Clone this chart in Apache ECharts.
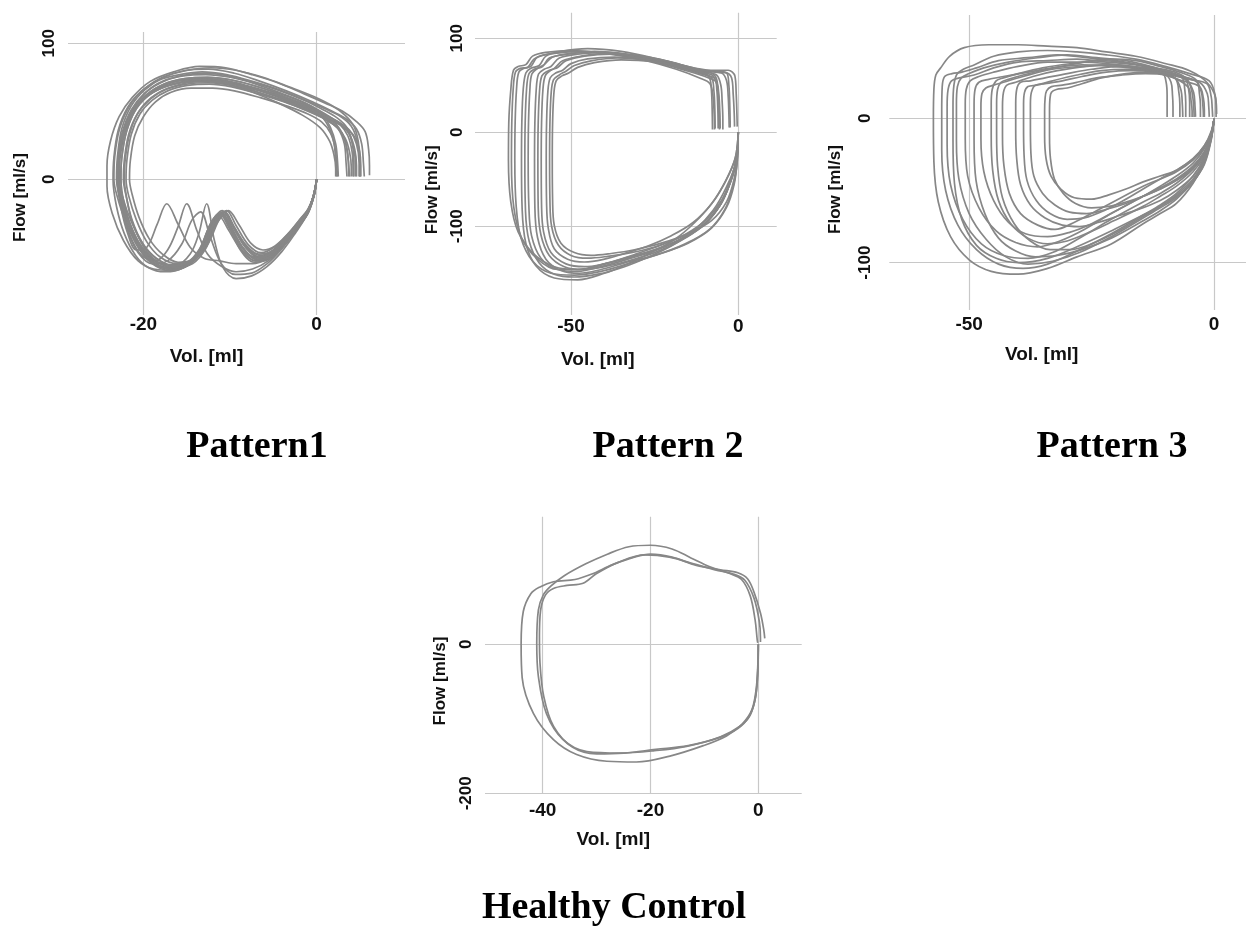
<!DOCTYPE html>
<html>
<head>
<meta charset="utf-8">
<script src="https://cdn.jsdelivr.net/npm/echarts@6/dist/echarts.min.js"></script>
<style>
  html, body { margin: 0; padding: 0; background: #ffffff; }
  #chart { width: 1246px; height: 927px; }
</style>
</head>
<body>
<div id="chart"></div>
<script>
// ---------- Data: tidal flow-volume loops, each loop is a list of [volume ml, flow ml/s] ----------
const panelTitles = ['Pattern1', 'Pattern 2', 'Pattern 3', 'Healthy Control'];
const volumeTicks = [[-20, 0], [-50, 0], [-50, 0], [-40, -20, 0]];
const flowTicks = [[0, 100], [-100, 0, 100], [-100, 0], [-200, 0]];
const volumeName = 'Vol. [ml]';
const flowName = 'Flow [ml/s]';

const pattern1Loops = [
  [[0,0],[-0.3,-12],[-1,-24],[-2.2,-33],[-3.6,-43],[-5,-52],[-6.5,-56],[-8,-50],[-9.5,-35],[-10.6,-24],[-11.6,-31],[-12.9,-50],[-14.4,-61],[-16.5,-64],[-18.5,-58],[-20,-48],[-21.4,-31],[-22.4,-13],[-22.8,0],[-22.7,15],[-22.1,35],[-21,51],[-19.5,62],[-17.8,69],[-15.5,73],[-13,74],[-10.5,72],[-7.5,67],[-4.5,61],[-1.5,53],[0.5,46],[2,40],[3,33],[3.5,22],[3.7,10],[3.8,2]],
  [[0,0],[-0.4,-14],[-1.2,-27],[-2.5,-38],[-4,-50],[-5.6,-59],[-7.2,-61],[-8.8,-52],[-10,-36],[-11,-26],[-12,-33],[-13.4,-53],[-15,-64],[-17,-67],[-19,-62],[-20.6,-50],[-22,-32],[-23,-13],[-23.4,0],[-23.3,17],[-22.7,38],[-21.5,55],[-19.8,67],[-17.8,75],[-15.2,80],[-12.5,81],[-9.5,78],[-6.5,72],[-3.5,65],[-0.5,57],[1.8,50],[3.5,44],[4.6,37],[5.2,26],[5.4,12],[5.5,2]],
  [[0,0],[-0.3,-10],[-0.9,-21],[-2,-30],[-3.3,-40],[-4.8,-49],[-6.2,-52],[-7.6,-47],[-9,-33],[-10.2,-23],[-11.2,-29],[-12.5,-47],[-14,-58],[-16,-61],[-17.8,-55],[-19.3,-44],[-20.5,-28],[-21.3,-11],[-21.6,0],[-21.5,14],[-21,32],[-20,46],[-18.6,57],[-16.8,64],[-14.5,67],[-12,67],[-9.5,65],[-6.5,60],[-3.5,54],[-1,48],[0.6,42],[1.6,34],[2.1,24],[2.3,12],[2.4,2]],
  [[0,0],[-0.5,-15],[-1.4,-28],[-2.8,-40],[-4.3,-51],[-5.8,-57],[-7.3,-57],[-8.8,-48],[-10,-33],[-10.9,-25],[-11.9,-32],[-13.2,-52],[-14.8,-63],[-16.8,-67],[-18.8,-66],[-20.6,-60],[-22.3,-45],[-23.6,-25],[-24.2,-5],[-24.2,10],[-23.8,28],[-22.8,46],[-21.3,60],[-19.2,72],[-16.5,79],[-13.5,83],[-10.5,82],[-7.5,77],[-4.5,71],[-1.5,63],[1,56],[3,50],[4.5,43],[5.6,35],[6,22],[6.1,10],[6.1,3]],
  [[0,0],[-0.4,-13],[-1.2,-27],[-2.5,-40],[-4,-53],[-5.7,-64],[-7.5,-71],[-9.3,-73],[-10.8,-65],[-11.8,-45],[-12.7,-18],[-13.6,-40],[-14.6,-55],[-16.2,-63],[-18,-62],[-19.8,-54],[-21.2,-38],[-22.2,-18],[-22.6,0],[-22.5,16],[-21.9,36],[-20.8,52],[-19.2,63],[-17.2,70],[-14.8,73],[-12.2,73],[-9.5,70],[-6.5,65],[-3.5,58],[-0.8,51],[1.2,44],[2.5,37],[3.2,26],[3.4,12],[3.5,2]],
  [[0,0],[-0.4,-13],[-1.2,-26],[-2.5,-38],[-4,-50],[-5.6,-60],[-7.4,-66],[-9.3,-68],[-11,-64],[-12.6,-55],[-13.8,-38],[-15,-18],[-16,-35],[-17.2,-52],[-18.6,-60],[-20.2,-56],[-21.5,-42],[-22.4,-22],[-22.9,0],[-22.8,15],[-22.3,34],[-21.2,50],[-19.6,62],[-17.6,70],[-15.2,74],[-12.6,75],[-9.8,73],[-6.8,68],[-3.8,62],[-1,55],[1,48],[2.6,41],[3.6,32],[4.1,20],[4.2,8],[4.2,2]],
  [[0,0],[-0.4,-13],[-1.2,-26],[-2.5,-38],[-4,-50],[-5.6,-58],[-7.4,-62],[-9.3,-62],[-11.2,-60],[-13,-58],[-14.6,-50],[-16,-33],[-17.3,-18],[-18.4,-33],[-19.6,-50],[-20.8,-52],[-21.8,-40],[-22.6,-20],[-23,0],[-22.9,15],[-22.4,34],[-21.3,50],[-19.8,61],[-17.8,69],[-15.4,73],[-12.8,74],[-10,72],[-7,67],[-4,61],[-1.2,54],[0.8,47],[2.3,40],[3.2,30],[3.6,18],[3.7,7],[3.7,2]],
  [[0,0],[-0.3,-11],[-1,-23],[-2.1,-32],[-3.5,-42],[-5.1,-53],[-6.7,-57],[-8.3,-49],[-9.8,-33],[-10.9,-23],[-11.9,-30],[-13.1,-49],[-14.7,-60],[-16.7,-63],[-18.6,-58],[-20.1,-47],[-21.3,-30],[-22,-12],[-22.3,0],[-22.2,14],[-21.7,33],[-20.7,48],[-19.2,59],[-17.4,66],[-15,70],[-12.5,71],[-9.8,69],[-6.8,64],[-3.8,58],[-1,51],[1.2,45],[2.8,40],[3.8,33],[4.4,22],[4.6,10],[4.6,2]],
  [[0,0],[-0.3,-12],[-1,-25],[-2.3,-35],[-3.8,-45],[-5.3,-55],[-6.9,-59],[-8.5,-51],[-9.9,-36],[-11,-25],[-12,-32],[-13.3,-51],[-15,-62],[-17,-65],[-19,-60],[-20.5,-48],[-21.8,-30],[-22.6,-11],[-23,0],[-22.9,16],[-22.3,36],[-21.2,52],[-19.7,64],[-17.8,72],[-15.4,76],[-12.8,77],[-10,75],[-7,70],[-4,63],[-1.3,56],[0.6,48],[1.6,38],[2.2,26],[2.4,14],[2.5,2]],
  [[0,0],[-0.3,-12],[-1.1,-25],[-2.3,-34],[-3.7,-44],[-5.2,-53],[-6.7,-55],[-8.2,-48],[-9.7,-34],[-10.8,-24],[-11.8,-31],[-13,-49],[-14.6,-61],[-16.6,-65],[-18.6,-60],[-20.2,-50],[-21.6,-32],[-22.5,-14],[-22.9,0],[-22.8,15],[-22.3,34],[-21.2,50],[-19.6,61],[-17.6,68],[-15.3,72],[-12.7,73],[-10,71],[-7,66],[-4,60],[-1.2,53],[1,47],[2.6,42],[3.8,36],[4.6,26],[4.9,12],[4.9,2]],
  [[0,0],[-0.3,-11],[-1,-22],[-2.1,-31],[-3.4,-41],[-4.9,-50],[-6.4,-54],[-7.9,-48],[-9.3,-34],[-10.4,-23],[-11.4,-30],[-12.7,-48],[-14.2,-59],[-16.2,-62],[-18.1,-57],[-19.6,-46],[-20.8,-30],[-21.7,-12],[-22,0],[-21.9,14],[-21.4,33],[-20.4,48],[-19,58],[-17.2,65],[-14.9,69],[-12.4,70],[-9.8,68],[-6.8,63],[-3.8,57],[-1,50],[1,44],[2.4,38],[3.3,30],[3.8,20],[4,9],[4,2]],
  [[0,0],[-0.4,-13],[-1.1,-26],[-2.3,-36],[-3.8,-47],[-5.4,-57],[-7,-60],[-8.6,-52],[-10.1,-36],[-11.2,-25],[-12.2,-32],[-13.5,-52],[-15.1,-63],[-17.1,-66],[-19.1,-61],[-20.7,-49],[-22,-30],[-22.8,-12],[-23.1,0],[-23,16],[-22.5,37],[-21.4,54],[-19.8,66],[-17.6,75],[-15,80],[-12.2,82],[-9.2,80],[-6.2,75],[-3.2,68],[-0.4,61],[1.8,54],[3.3,47],[4.3,39],[4.8,28],[5,14],[5,2]],
  [[0,0],[-0.3,-12],[-1,-24],[-2.2,-34],[-3.6,-44],[-5.1,-54],[-6.6,-57],[-8.1,-50],[-9.6,-35],[-10.7,-24],[-11.7,-31],[-13,-50],[-14.6,-62],[-16.6,-66],[-18.6,-62],[-20.2,-52],[-21.5,-36],[-22.3,-18],[-22.6,0],[-22.5,15],[-22,34],[-21,50],[-19.5,61],[-17.5,68],[-15.1,72],[-12.5,73],[-9.8,71],[-6.8,66],[-3.8,60],[-1,53],[0.6,46],[1.5,37],[2,27],[2.2,14],[2.3,2]],
  [[0,0],[-0.4,-13],[-1.2,-26],[-2.5,-39],[-4,-51],[-5.7,-62],[-7.5,-69],[-9.4,-70],[-11,-62],[-12.3,-42],[-13.4,-24],[-14.4,-30],[-15.6,-48],[-17.2,-60],[-19,-62],[-20.6,-54],[-21.8,-38],[-22.6,-18],[-23,0],[-22.9,15],[-22.4,34],[-21.3,50],[-19.7,62],[-17.6,70],[-15.2,74],[-12.6,75],[-9.8,73],[-6.8,68],[-3.8,61],[-1,54],[1.1,47],[2.7,41],[3.7,34],[4.3,22],[4.5,10],[4.5,2]],
  [[0,0],[-0.3,-11],[-1,-23],[-2.2,-33],[-3.7,-44],[-5.3,-55],[-6.9,-59],[-8.4,-51],[-9.8,-36],[-10.9,-26],[-11.9,-33],[-13.2,-52],[-14.8,-63],[-16.8,-66],[-18.8,-61],[-20.4,-50],[-21.7,-33],[-22.6,-14],[-23,0],[-22.9,15],[-22.4,35],[-21.4,51],[-19.9,63],[-18,71],[-15.7,76],[-13,78],[-10.2,76],[-7.2,71],[-4.2,65],[-1.4,58],[0.8,51],[2.4,45],[3.5,38],[4.1,27],[4.3,13],[4.3,2]],
  [[0,0],[-0.3,-12],[-1,-25],[-2.2,-35],[-3.6,-45],[-5.1,-54],[-6.6,-58],[-8.1,-51],[-9.5,-37],[-10.5,-26],[-11.5,-32],[-12.8,-51],[-14.3,-62],[-16.3,-65],[-18.3,-61],[-19.9,-52],[-21.3,-38],[-22.3,-20],[-22.8,-2],[-22.8,14],[-22.3,33],[-21.3,49],[-19.8,60],[-17.9,67],[-15.6,71],[-13.1,72],[-10.4,70],[-7.4,64],[-4.4,56],[-1.6,47],[0.4,38],[1.5,28],[2,18],[2.2,8],[2.2,2]],
  [[0,0],[-0.4,-13],[-1.1,-25],[-2.4,-36],[-3.9,-47],[-5.5,-57],[-7.1,-60],[-8.7,-52],[-10.2,-37],[-11.3,-27],[-12.3,-34],[-13.7,-54],[-15.4,-65],[-17.5,-68],[-19.4,-65],[-20.9,-56],[-22.2,-40],[-23.1,-20],[-23.5,0],[-23.4,16],[-22.9,36],[-21.8,53],[-20.2,65],[-18.2,73],[-15.8,77],[-13.2,79],[-10.4,77],[-7.4,72],[-4.4,66],[-1.6,59],[0.9,52],[2.8,46],[4,39],[4.7,28],[5,14],[5,2]],
  [[0,0],[-0.3,-12],[-1.1,-24],[-2.3,-34],[-3.8,-45],[-5.4,-55],[-7,-58],[-8.6,-50],[-10.1,-35],[-11.2,-25],[-12.2,-32],[-13.5,-51],[-15.1,-62],[-17.1,-64],[-18.9,-58],[-20.3,-46],[-21.4,-29],[-22,-11],[-22.2,0],[-22.1,14],[-21.6,33],[-20.6,49],[-19.1,60],[-17.2,67],[-14.9,71],[-12.4,72],[-9.7,70],[-6.7,64],[-3.7,57],[-0.9,50],[1.3,44],[3,39],[4.2,33],[4.9,22],[5.1,10],[5.1,2]]
];

const pattern2Loops = [
  [[0,0],[-0.5,-28],[-2.3,-52],[-5.3,-77],[-10,-98],[-16,-112],[-24,-124],[-32,-132],[-40,-140],[-48,-146],[-55,-143],[-61,-130],[-65.8,-106],[-68,-74],[-68.7,-30],[-68.6,10],[-68,45],[-67.2,66],[-65.8,70],[-63.5,72],[-61.5,81],[-57.5,85],[-50,87],[-40,84],[-28.5,77],[-18.5,67],[-11,57],[-8.5,52],[-7.6,40],[-7.2,20],[-7.1,3]],
  [[0,0],[-0.3,-30],[-1.2,-55],[-3.5,-80],[-8,-102],[-15,-118],[-24,-130],[-33,-140],[-41,-148],[-49,-152],[-56,-150],[-61.5,-137],[-65,-112],[-66.4,-78],[-66.8,-30],[-66.7,10],[-66.3,45],[-65.6,64],[-64,68],[-62,70],[-60,80],[-55,84],[-47,86],[-37,83],[-26,76],[-16,66],[-9,58],[-6.5,53],[-5.8,40],[-5.5,20],[-5.4,4]],
  [[0,0],[-0.8,-26],[-3.5,-50],[-7.5,-74],[-13,-96],[-19,-114],[-26,-128],[-33,-140],[-40,-150],[-48,-157],[-55,-155],[-60.5,-142],[-63.5,-118],[-64.6,-82],[-64.8,-30],[-64.7,10],[-64.3,45],[-63.5,63],[-62,68],[-59.5,71],[-57.5,81],[-53,86],[-45,89],[-35,86],[-24,78],[-14,69],[-6,64],[-3.5,63],[-2.8,50],[-2.5,25],[-2.4,5]],
  [[0,0],[-0.5,-29],[-2.5,-53],[-5.6,-78],[-10.5,-99],[-17,-114],[-25,-126],[-33,-135],[-41,-143],[-48,-148],[-54,-146],[-59,-134],[-61.8,-110],[-62.6,-78],[-62.8,-30],[-62.7,10],[-62.3,45],[-61.7,62],[-60,68],[-58,72],[-55.5,80],[-50,84],[-42,85],[-32,81],[-21,73],[-12,64],[-8,58],[-7.3,45],[-7,25],[-6.9,4]],
  [[0,0],[-0.3,-31],[-1.5,-57],[-4,-82],[-8.5,-103],[-16,-119],[-25,-131],[-34,-139],[-41,-146],[-47.5,-150],[-53,-147],[-57.5,-135],[-60,-112],[-60.8,-80],[-60.9,-30],[-60.8,10],[-60.4,45],[-59.7,62],[-58,67],[-56,70],[-53.5,79],[-48,83],[-40,85],[-30,81],[-20,73],[-11,66],[-4,64],[-2,58],[-1.5,40],[-1.2,20],[-1.1,6]],
  [[0,0],[-0.5,-27],[-2.2,-51],[-5,-75],[-10,-97],[-17,-113],[-25,-125],[-33,-134],[-40,-140],[-46,-143],[-51.5,-140],[-56,-128],[-58.2,-106],[-58.8,-78],[-58.9,-30],[-58.8,10],[-58.4,45],[-57.7,60],[-56,66],[-54,69],[-51.5,76],[-46,81],[-38,83],[-28,80],[-18,72],[-10,65],[-5,63],[-3.5,55],[-3,38],[-2.8,20],[-2.7,5]],
  [[0,0],[-0.9,-28],[-3.8,-52],[-8,-76],[-13.5,-96],[-20,-110],[-27,-121],[-34,-129],[-40,-135],[-46,-138],[-51,-135],[-55,-124],[-56.8,-102],[-57.3,-75],[-57.4,-30],[-57.3,10],[-56.9,44],[-56.2,58],[-54.6,63],[-52.5,66],[-50,73],[-45,78],[-37,80],[-27,77],[-17,70],[-10,62],[-8.5,57],[-8,44],[-7.8,25],[-7.7,3]],
  [[0,0],[-0.5,-30],[-2.5,-55],[-5.7,-79],[-10.7,-99],[-17.5,-112],[-25,-122],[-32,-128],[-39,-132],[-45,-134],[-50,-131],[-53.8,-120],[-55.8,-100],[-56.3,-72],[-56.4,-30],[-56.3,10],[-55.9,43],[-55.2,56],[-53.5,61],[-51.5,65],[-49,71],[-44,76],[-36,79],[-26,76],[-17,70],[-10,64],[-6.5,61],[-5.2,50],[-4.8,32],[-4.6,14],[-4.6,3]],
  [[0,0],[-0.4,-25],[-2,-48],[-4.9,-72],[-9.6,-93],[-15.5,-108],[-23,-120],[-31,-130],[-39,-139],[-47,-146],[-54,-146],[-60,-135],[-64.8,-112],[-67.1,-80],[-67.8,-32],[-67.7,10],[-67.3,45],[-66.6,64],[-65.2,68],[-63,69],[-61,78],[-57,83],[-49,86],[-39,84],[-28,78],[-18,69],[-10,61],[-7,57],[-6.4,45],[-6.1,25],[-6,4]],
  [[0,0],[-0.7,-32],[-3.5,-58],[-7.5,-83],[-13,-104],[-19.5,-120],[-27,-133],[-34,-143],[-42,-151],[-49,-154],[-55,-151],[-59.5,-139],[-62.5,-116],[-63.6,-84],[-63.8,-30],[-63.7,10],[-63.3,45],[-62.6,62],[-61,67],[-58.5,70],[-56.5,79],[-51,83],[-43,86],[-33,83],[-22,76],[-13,68],[-8,63],[-6.5,57],[-6,40],[-5.8,20],[-5.7,5]],
  [[0,0],[-0.5,-29],[-2.4,-54],[-5.5,-78],[-10.5,-99],[-17,-115],[-25,-128],[-33,-137],[-40,-143],[-46.5,-146],[-52,-143],[-56.5,-131],[-59,-109],[-59.8,-80],[-59.9,-30],[-59.8,10],[-59.4,44],[-58.7,60],[-57,65],[-55,68],[-52.5,76],[-47,81],[-39,84],[-29,81],[-19,74],[-11,66],[-3,66],[-1,60],[-0.6,40],[-0.4,20],[-0.3,6]],
  [[0,0],[-0.3,-27],[-1.3,-51],[-3.5,-74],[-8,-94],[-15,-108],[-23,-118],[-31,-125],[-38,-129],[-44,-131],[-49,-128],[-53,-118],[-55,-99],[-55.5,-72],[-55.6,-30],[-55.5,10],[-55.1,42],[-54.4,55],[-52.7,60],[-50.7,63],[-48,69],[-43,74],[-35,77],[-25,75],[-16,69],[-10,63],[-7.5,60],[-6.2,48],[-5.8,30],[-5.6,12],[-5.6,3]]
];

const pattern3Loops = [
  [[0,0],[-0.6,-13],[-2,-30],[-4.3,-45],[-7.7,-59],[-11,-66],[-14.5,-73],[-21,-87],[-28,-96],[-34,-104],[-40,-108],[-45.5,-106],[-50,-98],[-53.8,-82],[-56.3,-58],[-57.2,-30],[-57.3,0],[-57.2,20],[-56.8,30],[-55.8,35],[-54,43],[-51,49],[-46,51],[-40,51],[-34,50],[-28,49],[-22,46],[-16,43],[-10,38],[-5,33],[-1.5,25],[0.3,14],[0.5,3]],
  [[0,0],[-0.6,-12],[-2,-27],[-4.3,-40],[-7.7,-52],[-11,-60],[-14.5,-67],[-21,-80],[-28,-92],[-34,-101],[-39,-104],[-44,-101],[-48.5,-91],[-52.3,-74],[-54.8,-50],[-55.6,-22],[-55.6,5],[-55.5,22],[-55,29],[-53.5,31],[-51.5,32],[-48.5,35],[-44,40],[-38,42],[-32,44],[-26,42],[-20,40],[-14,36],[-9,31],[-5.5,26],[-4.2,18],[-3.9,8],[-3.8,1]],
  [[0,0],[-0.6,-11],[-2,-24],[-4.3,-35],[-7.7,-45],[-11,-52],[-14.5,-58],[-21,-70],[-27,-82],[-33,-93],[-38,-97],[-43,-95],[-47.5,-87],[-51.3,-70],[-53.8,-46],[-54.5,-18],[-54.5,8],[-54.3,20],[-53.6,26],[-52,28],[-49,30],[-45,35],[-40,39],[-34,40],[-28,41],[-22,39],[-16,37],[-11,33],[-8,28],[-6.8,20],[-6.5,10],[-6.4,1]],
  [[0,0],[-0.6,-14],[-2,-31],[-4.3,-44],[-7.7,-54],[-11,-61],[-14.5,-67],[-21,-78],[-28,-89],[-34,-97],[-40,-100],[-44.5,-97],[-48.5,-88],[-51.5,-70],[-53,-45],[-53.3,-15],[-53.3,8],[-53.2,20],[-52.6,30],[-51.2,34],[-49,37],[-45,43],[-40,46],[-34,47],[-28,46],[-22,44],[-16,41],[-10,36],[-5,31],[-1,26],[0.2,16],[0.4,6],[0.4,1]],
  [[0,0],[-0.6,-14],[-2,-30],[-4.3,-43],[-7.7,-55],[-11,-62],[-14.5,-69],[-21,-82],[-27.5,-93],[-33,-99],[-38,-101],[-42.5,-96],[-46.5,-84],[-50,-66],[-52.1,-42],[-52.6,-15],[-52.6,10],[-52.4,22],[-51.6,28],[-50,31],[-47,35],[-42,39],[-36,42],[-30,44],[-24,42],[-18,40],[-13,36],[-8.5,31],[-3,25],[-1.4,17],[-1.1,8],[-1,1]],
  [[0,0],[-0.6,-10],[-2,-21],[-4.3,-31],[-7.7,-40],[-11,-47],[-14.5,-54],[-21,-66],[-26.5,-77],[-31.5,-85],[-36,-89],[-40.5,-86],[-44.5,-78],[-48,-62],[-50.3,-40],[-50.8,-14],[-50.8,10],[-50.6,20],[-49.8,26],[-48,29],[-45,32],[-40,36],[-34,39],[-28,39],[-22,38],[-16,35],[-11,31],[-7.5,27],[-5.2,21],[-4.7,12],[-4.5,5],[-4.5,1]],
  [[0,0],[-0.6,-15],[-2,-32],[-4.3,-44],[-7.7,-56],[-11,-64],[-14.5,-71],[-21,-83],[-27,-91],[-32,-95],[-36.5,-96],[-40.5,-92],[-44,-83],[-46.8,-66],[-48.6,-43],[-49,-15],[-49,10],[-48.8,20],[-48,25],[-46,27],[-43,29],[-38,32],[-33,35],[-27,37],[-21,36],[-15,34],[-10,30],[-6.5,26],[-3,22],[-2.2,14],[-2,6],[-2,1]],
  [[0,0],[-0.6,-11],[-2,-23],[-4.3,-33],[-7.7,-42],[-11,-48],[-14.5,-54],[-20,-64],[-25,-73],[-29.5,-79],[-34,-82],[-38.5,-80],[-42,-72],[-45,-57],[-47,-37],[-47.6,-14],[-47.6,8],[-47.4,17],[-46.6,21],[-45,23],[-43,25],[-39,29],[-33,34],[-27,36],[-21,37],[-15,35],[-10,31],[-7.8,27],[-7.2,18],[-7,10],[-7,4],[-7,1]],
  [[0,0],[-0.6,-12],[-2,-26],[-4.3,-37],[-7.7,-47],[-11,-54],[-14.5,-61],[-20.5,-71],[-25.5,-79],[-30,-85],[-34,-87],[-38,-83],[-41.5,-73],[-44,-57],[-45.2,-36],[-45.5,-12],[-45.5,10],[-45.3,20],[-44.5,26],[-43,28],[-40,31],[-35,35],[-29,38],[-23,40],[-17,38],[-12,35],[-8,32],[-5.5,27],[-4.5,18],[-4.2,9],[-4.1,3],[-4.1,1]],
  [[0,0],[-0.6,-13],[-2,-29],[-4.3,-42],[-7.7,-53],[-11,-61],[-14.5,-68],[-20,-79],[-25,-87],[-29.5,-91],[-33.5,-91],[-37.5,-85],[-40.8,-73],[-43.2,-55],[-44.2,-33],[-44.4,-10],[-44.4,10],[-44.2,20],[-43.5,25],[-42,27],[-39,30],[-34,34],[-28,38],[-22,41],[-16,40],[-11,36],[-7,32],[-3.8,27],[-2.6,18],[-2.3,9],[-2.2,3],[-2.2,1]],
  [[0,0],[-0.6,-10],[-2,-20],[-4.3,-29],[-7.7,-37],[-11,-42],[-14.5,-47],[-19,-55],[-24,-64],[-28.5,-72],[-32.5,-77],[-36,-74],[-39.5,-66],[-41.8,-52],[-42.9,-33],[-43.2,-12],[-43.2,8],[-43,18],[-42.3,23],[-40.5,25],[-37,29],[-32,33],[-26,36],[-20,37],[-15,35],[-10.5,31],[-9.8,25],[-9.6,16],[-9.6,8],[-9.6,3],[-9.6,1]],
  [[0,0],[-0.6,-13],[-2,-28],[-4.3,-40],[-7.7,-50],[-11,-57],[-14.5,-62],[-19,-67],[-23.5,-72],[-27.5,-75],[-31,-74],[-34.5,-69],[-37.5,-60],[-39.5,-46],[-40.3,-28],[-40.5,-8],[-40.5,10],[-40.3,20],[-39.5,25],[-37.5,26],[-34.5,28],[-30,31],[-25,34],[-19,36],[-14,35],[-9,32],[-6.5,28],[-6,20],[-5.8,11],[-5.8,4],[-5.8,1]],
  [[0,0],[-0.6,-9],[-2,-19],[-4.3,-28],[-7.7,-36],[-11,-42],[-14.5,-49],[-18.5,-57],[-22.5,-64],[-26.5,-69],[-30,-70],[-33.5,-66],[-36.3,-57],[-38.2,-43],[-38.8,-25],[-38.9,-5],[-38.9,10],[-38.7,18],[-38,22],[-36.2,23],[-33,26],[-28,30],[-23,33],[-18,34],[-13,33],[-9,30],[-5,27],[-1.5,24],[-0.6,15],[-0.4,7],[-0.3,1]],
  [[0,0],[-0.6,-11],[-2,-24],[-4.3,-34],[-7.7,-43],[-11,-49],[-14.5,-54],[-18,-59],[-22,-63],[-26,-66],[-29.5,-65],[-32.5,-60],[-35,-52],[-36.8,-40],[-37.4,-24],[-37.5,-5],[-37.5,10],[-37.3,18],[-36.5,23],[-34.5,24],[-31,26],[-27,29],[-22,32],[-17,33],[-12,32],[-7,29],[-3.5,25],[-3,17],[-2.8,9],[-2.8,3],[-2.8,1]],
  [[0,0],[-0.6,-10],[-2,-19],[-4.3,-28],[-7.7,-36],[-11,-40],[-14.5,-44],[-18,-49],[-21.5,-53],[-25,-56],[-28.5,-55],[-31.3,-49],[-33.3,-40],[-34.3,-28],[-34.6,-12],[-34.6,5],[-34.5,14],[-34.2,19],[-33.2,22],[-31,23],[-28,25],[-24,28],[-19,30],[-14,31],[-10,30],[-8.8,25],[-8.5,16],[-8.4,8],[-8.4,3],[-8.4,1]],
  [[0,0],[-0.6,-12],[-2,-25],[-4.3,-35],[-7.7,-43],[-11,-49],[-14.5,-54],[-18,-58],[-21.5,-61],[-25,-62],[-28.3,-59],[-30.8,-52],[-32.6,-42],[-33.4,-28],[-33.6,-12],[-33.6,5],[-33.5,14],[-33.2,18],[-32.2,20],[-30,21],[-27,24],[-23,28],[-18,31],[-13,32],[-9,31],[-6,28],[-5.2,20],[-5,11],[-5,4],[-5,1]]
];

const healthyLoops = [
  [[0,0],[-0.1,-30],[-0.4,-60],[-1.2,-88],[-3,-107],[-5.9,-123],[-10.2,-136],[-16.4,-150],[-22.6,-158],[-28.1,-157],[-33.7,-148],[-38,-128],[-41.7,-93],[-43.8,-45],[-44,0],[-43.6,44],[-42.2,68],[-40.5,77],[-38,84],[-34,87],[-31,94],[-27,107],[-23,117],[-20,121],[-16,117],[-11.5,106],[-7,100],[-3.8,96],[-2,88],[-0.8,70],[0.4,42],[1,20],[1.2,8]],
  [[0,0],[-0.1,-35],[-0.5,-70],[-1.5,-95],[-3.4,-110],[-7,-124],[-13.3,-137],[-19.5,-143],[-25.7,-146],[-31.8,-144],[-36.2,-128],[-39.3,-93],[-40.8,-43],[-41.1,1],[-40.8,46],[-39.9,66],[-38.5,78],[-36,92],[-32,108],[-28,121],[-24,131],[-20,133],[-16,128],[-12.5,116],[-9,104],[-5.3,95],[-3.1,87],[-1.5,65],[-0.6,33],[-0.2,6],[-0.1,2]],
  [[0,0],[-0.1,-40],[-0.6,-75],[-1.8,-98],[-3.8,-113],[-7.5,-126],[-13,-136],[-19,-141],[-25,-146],[-30,-147],[-34.5,-138],[-38,-110],[-39.8,-70],[-40.5,-25],[-40.6,10],[-40.4,45],[-39.5,66],[-38,75],[-35.5,79],[-32.5,82],[-30,95],[-26,110],[-21,120],[-16.5,117],[-12,108],[-8,100],[-4.5,94],[-2.5,86],[-0.8,62],[0.2,30],[0.4,8],[0.4,3]]
];

const panelLoops = [pattern1Loops, pattern2Loops, pattern3Loops, healthyLoops];

// ---------- Layout and styling of the four panels ----------
const panels = [
  { grid: { left: 68, top: 32, width: 337, height: 283 }, x: [-28.7, 10.2], y: [-99.8, 108.3],
    yLabelMargin: 10, yNameGap: 39, yNameShift: 24, xLabelMargin: 0, xNameGap: 32, xNameShift: 30,
    title: [257, 447] },
  { grid: { left: 475, top: 12.7, width: 301.7, height: 302.3 }, x: [-78.7, 11.5], y: [-194.4, 127.2],
    yLabelMargin: 9, yNameGap: 34, yNameShift: 26, xLabelMargin: 2, xNameGap: 35, xNameShift: 28,
    title: [668, 447] },
  { grid: { left: 889.3, top: 15, width: 357, height: 295 }, x: [-66.3, 6.5], y: [-132.8, 71.6],
    yLabelMargin: 15, yNameGap: 45, yNameShift: 27, xLabelMargin: 5, xNameGap: 35, xNameShift: 26,
    title: [1112, 447] },
  { grid: { left: 485, top: 516.7, width: 316.7, height: 276.6 }, x: [-50.7, 8.05], y: [-200, 171.3],
    yLabelMargin: 10, yNameGap: 36, yNameShift: 26, xLabelMargin: 8, xNameGap: 37, xNameShift: 30,
    title: [614, 908] }
];

const LOOP_COLOR = '#878787';
const GRID_COLOR = '#c8c8c8';
const TEXT_COLOR = '#111111';
const SANS = '"Liberation Sans", Arial, sans-serif';
const SERIF = '"Liberation Serif", "Times New Roman", serif';

const chart = echarts.init(document.getElementById('chart'), null, { renderer: 'canvas' });

const grids = [], xAxes = [], yAxes = [], series = [], graphics = [];

panels.forEach((p, i) => {
  grids.push(Object.assign({ containLabel: false }, p.grid));

  xAxes.push({
    gridIndex: i, type: 'value', min: p.x[0], max: p.x[1],
    axisLine: { show: false },
    axisTick: { show: false, customValues: volumeTicks[i] },
    axisLabel: { customValues: volumeTicks[i], margin: p.xLabelMargin, fontSize: 19, fontWeight: 'bold',
                 fontFamily: SANS, color: TEXT_COLOR },
    splitLine: { show: true, lineStyle: { color: GRID_COLOR, width: 1.2 } },
    name: volumeName, nameLocation: 'middle', nameGap: p.xNameGap, nameMoveOverlap: false,
    nameTextStyle: { fontSize: 19, fontWeight: 'bold', fontFamily: SANS, color: TEXT_COLOR,
                     padding: [0, 2 * p.xNameShift, 0, 0] }
  });

  yAxes.push({
    gridIndex: i, type: 'value', min: p.y[0], max: p.y[1],
    axisLine: { show: false },
    axisTick: { show: false, customValues: flowTicks[i] },
    axisLabel: { customValues: flowTicks[i], rotate: 90, margin: p.yLabelMargin, fontSize: 17, fontWeight: 'bold',
                 fontFamily: SANS, color: TEXT_COLOR },
    splitLine: { show: true, lineStyle: { color: GRID_COLOR, width: 1.2 } },
    name: flowName, nameLocation: 'middle', nameGap: p.yNameGap, nameMoveOverlap: false,
    nameTextStyle: { fontSize: 17, fontWeight: 'bold', fontFamily: SANS, color: TEXT_COLOR,
                     padding: [0, 2 * p.yNameShift, 0, 0] }
  });

  panelLoops[i].forEach((loop) => {
    series.push({
      type: 'line', xAxisIndex: i, yAxisIndex: i, data: loop,
      smooth: 0.35, symbol: 'none', showSymbol: false, silent: true, animation: false,
      lineStyle: { color: LOOP_COLOR, width: 1.7 }
    });
  });

  graphics.push({
    type: 'text', x: p.title[0], y: p.title[1], silent: true,
    style: { text: panelTitles[i], align: 'center', verticalAlign: 'middle',
             fontSize: 38, fontWeight: 'bold', fontFamily: SERIF, fill: '#000000' }
  });
});

chart.setOption({
  backgroundColor: '#ffffff',
  animation: false,
  grid: grids,
  xAxis: xAxes,
  yAxis: yAxes,
  series: series,
  graphic: graphics
});
</script>
</body>
</html>
